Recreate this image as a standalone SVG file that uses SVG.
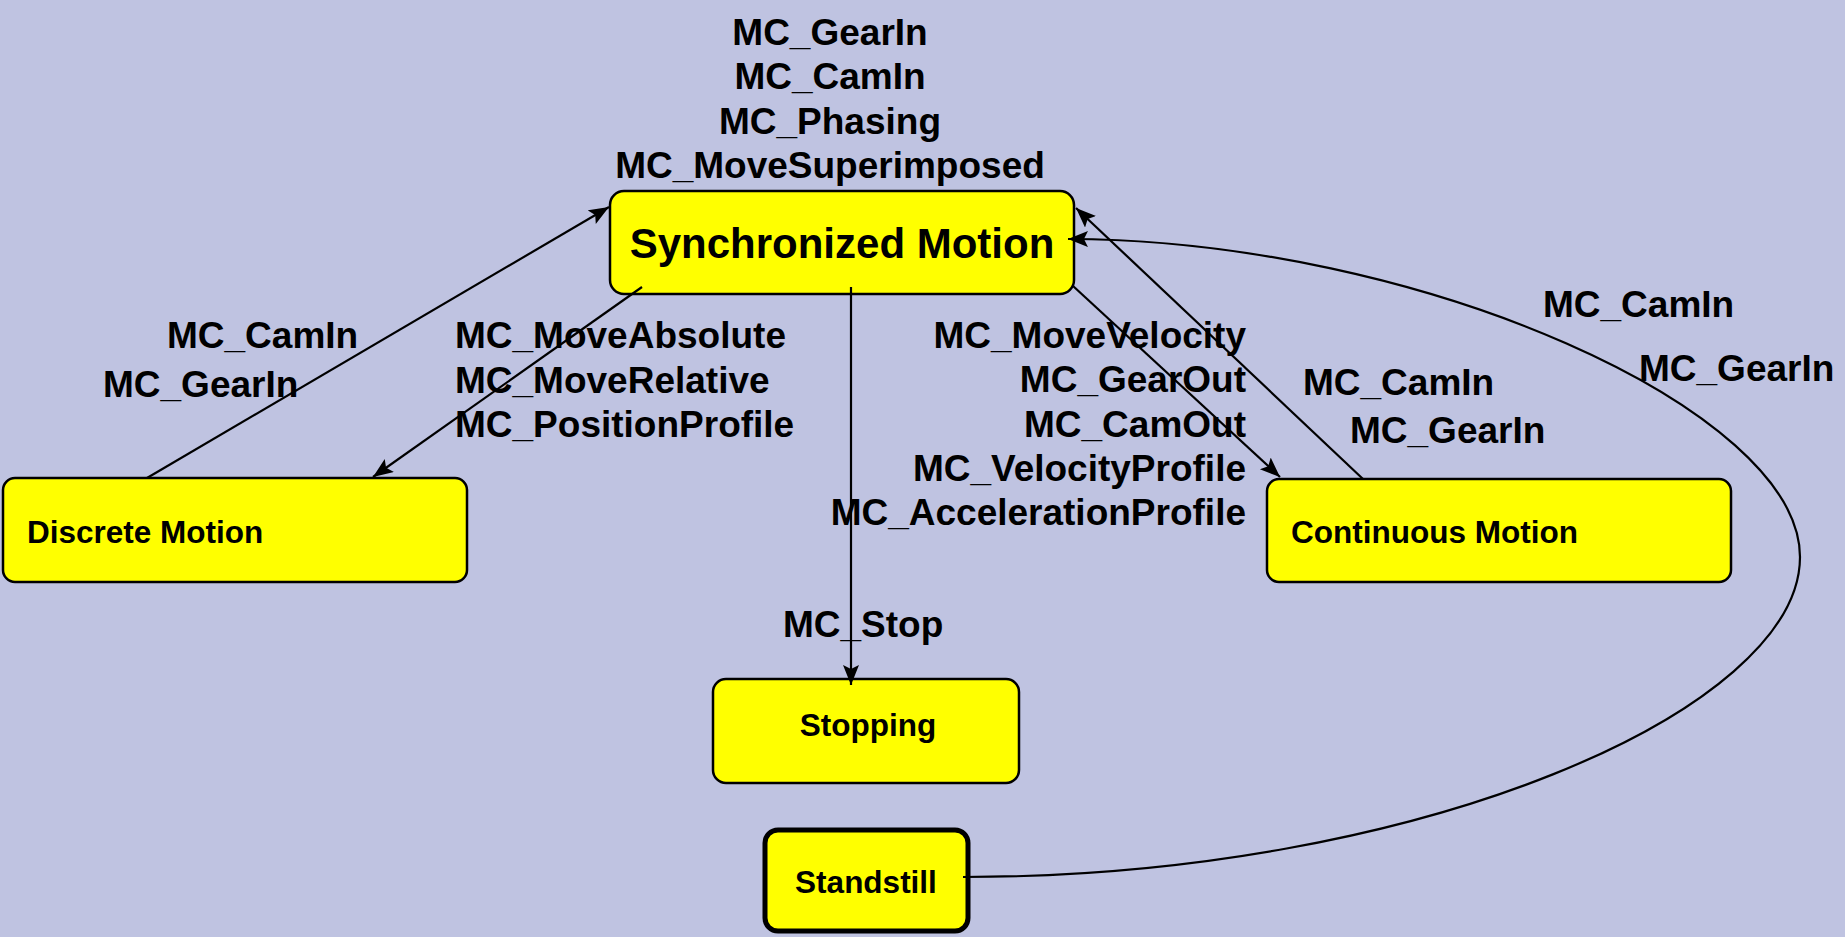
<svg xmlns="http://www.w3.org/2000/svg" width="1845" height="937" viewBox="0 0 1845 937">
  <style>
    .state { fill: #FFFF00; stroke: #000; stroke-width: 2.5; }
    .initial { fill: #FFFF00; stroke: #000; stroke-width: 5; }
    .title { font-family: "Liberation Sans", Arial, sans-serif; font-weight: bold; fill: #000; }
    .big { font-size: 42px; }
    .small { font-size: 31.5px; }
    .lbl { font-family: "Liberation Sans", Arial, sans-serif; font-weight: bold; font-size: 37px; fill: #000; }
    .edge { fill: none; stroke: #000; stroke-width: 2.2; }
  </style>
  <defs>
    <marker id="arrow" markerUnits="userSpaceOnUse" markerWidth="22" markerHeight="18" refX="20" refY="8" orient="auto">
      <path d="M0,0 L20,8 L0,16 L4,8 Z" fill="#000"/>
    </marker>
  </defs>

  <!-- background -->
  <rect x="0" y="0" width="1845" height="937" fill="#BFC3E1"/>

  <!-- states -->
  <g id="synchronized-motion">
    <rect class="state" x="610" y="191" width="464" height="103" rx="14"/>
    <text class="title big" x="842" y="258" text-anchor="middle">Synchronized Motion</text>
  </g>
  <g id="discrete-motion">
    <rect class="state" x="3" y="478" width="464" height="104" rx="12"/>
    <text class="title small" x="27" y="543">Discrete Motion</text>
  </g>
  <g id="continuous-motion">
    <rect class="state" x="1267" y="479" width="464" height="103" rx="12"/>
    <text class="title small" x="1291" y="543">Continuous Motion</text>
  </g>
  <g id="stopping">
    <rect class="state" x="713" y="679" width="306" height="104" rx="13"/>
    <text class="title small" x="868" y="736" text-anchor="middle">Stopping</text>
  </g>
  <g id="standstill">
    <rect class="initial" x="765" y="830" width="203" height="101" rx="13"/>
    <text class="title small" x="866" y="893" text-anchor="middle">Standstill</text>
  </g>

  <!-- transitions -->
  <g id="connectors">
    <line class="edge" x1="147" y1="478" x2="609" y2="207" marker-end="url(#arrow)"/>
    <line class="edge" x1="642" y1="287" x2="373" y2="477" marker-end="url(#arrow)"/>
    <line class="edge" x1="851" y1="287" x2="851" y2="685" marker-end="url(#arrow)"/>
    <line class="edge" x1="1073" y1="286" x2="1280" y2="477" marker-end="url(#arrow)"/>
    <line class="edge" x1="1363" y1="479" x2="1076" y2="208" marker-end="url(#arrow)"/>
    <path class="edge" d="M963,877 C1420,877 1800,710 1800,557 C1800,410 1420,240 1068,239" marker-end="url(#arrow)"/>
  </g>

  <!-- transition labels -->
  <g id="labels">
    <g text-anchor="middle">
      <text class="lbl" x="830" y="45">MC_GearIn</text>
      <text class="lbl" x="830" y="89">MC_CamIn</text>
      <text class="lbl" x="830" y="134">MC_Phasing</text>
      <text class="lbl" x="830" y="178">MC_MoveSuperimposed</text>
    </g>
    <text class="lbl" x="167" y="348">MC_CamIn</text>
    <text class="lbl" x="103" y="397">MC_GearIn</text>
    <text class="lbl" x="455" y="348">MC_MoveAbsolute</text>
    <text class="lbl" x="455" y="393">MC_MoveRelative</text>
    <text class="lbl" x="455" y="437">MC_PositionProfile</text>
    <g text-anchor="end">
      <text class="lbl" x="1246" y="348">MC_MoveVelocity</text>
      <text class="lbl" x="1246" y="392">MC_GearOut</text>
      <text class="lbl" x="1246" y="437">MC_CamOut</text>
      <text class="lbl" x="1246" y="481">MC_VelocityProfile</text>
      <text class="lbl" x="1246" y="525">MC_AccelerationProfile</text>
    </g>
    <text class="lbl" x="783" y="637">MC_Stop</text>
    <text class="lbl" x="1303" y="395">MC_CamIn</text>
    <text class="lbl" x="1350" y="443">MC_GearIn</text>
    <text class="lbl" x="1543" y="317">MC_CamIn</text>
    <text class="lbl" x="1639" y="381">MC_GearIn</text>
  </g>
</svg>
